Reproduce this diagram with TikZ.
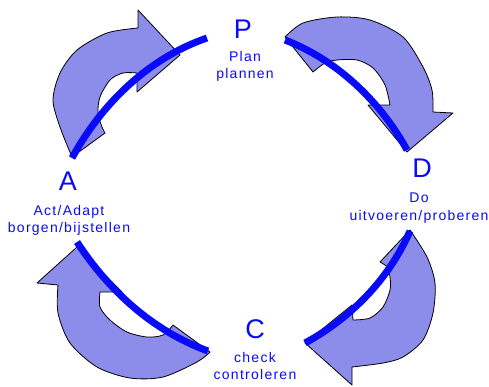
\documentclass[tikz,border=0pt]{standalone}
\usepackage{fontspec}
\setmainfont{Liberation Sans}
\newfontfamily\lblfont[LetterSpace=9]{Liberation Sans}
\definecolor{pdcablue}{RGB}{10,10,250}
\definecolor{arrowfill}{RGB}{140,140,235}

\begin{document}
\begin{tikzpicture}[x=1pt, y=-1pt,
  letter/.style={text=pdcablue, font=\fontsize{27}{30}\selectfont,
    inner sep=0pt, anchor=base},
  caption/.style={text=pdcablue, font=\lblfont\fontsize{14}{17.5}\selectfont,
    align=center, inner sep=0pt, anchor=north},
  bigarrow/.style={draw=black, fill=arrowfill, line width=0.8pt, line join=round},
  cycleline/.style={draw=pdcablue, line width=7pt}]
  \useasboundingbox (0,0) rectangle (489,386);
  % the four phases
  \node[letter] (P) at (243,38) {P};
  \node[caption] (plan) at (245,51) {Plan\\plannen};
  \node[letter] (D) at (422,177) {D};
  \node[caption] (do) at (419,193) {Do\\uitvoeren/proberen};
  \node[letter] (C) at (255,338) {C};
  \node[caption] (check) at (255,352) {check\\controleren};
  \node[letter] (A) at (68,190) {A};
  \node[caption] (act) at (69,205) {Act/Adapt\\borgen/bijstellen};
  % block arrows
  \draw[bigarrow] plot[smooth] coordinates {(72,157) (60,127) (53,100) (60,73)
      (77,50) (107,33) (138,28)}
    -- (138,10) -- (180,55) -- (137,92) -- (137,73)
    -- plot[smooth] coordinates {(137,73) (123,73) (110,80) (100,97) (98,113)
      (102,127) (105,133)} -- cycle;
  \draw[bigarrow] plot[smooth] coordinates {(285,37) (303,23) (337,17) (370,20)
      (403,37) (423,67) (432,90) (433,112)}
    -- (453,113) -- (407,152) -- (368,105) -- (390,105)
    -- plot[smooth] coordinates {(390,105) (385,85) (373,68) (357,60) (337,60)
      (325,63) (313,72)} -- cycle;
  \draw[bigarrow] plot[smooth] coordinates {(410,230) (427,257) (435,283) (433,313)
      (423,340) (403,357) (383,363) (352,367)}
    -- (352,385) -- (305,343) -- (352,305) -- (353,320)
    -- plot[smooth] coordinates {(353,320) (370,318) (383,307) (390,290) (390,277)
      (387,267) (380,262)} -- cycle;
  \draw[bigarrow] plot[smooth] coordinates {(210,352) (197,362) (163,377) (130,378)
      (97,367) (70,343) (58,313) (58,285)}
    -- (37,283) -- (77,247) -- (122,292) -- (100,292)
    -- plot[smooth] coordinates {(100,292) (100,307) (110,320) (127,332) (147,337)
      (163,335) (173,325)} -- cycle;
  % the cycle itself
  \coordinate (a-out) at (72,158);
  \coordinate (p-in) at (207,38);
  \coordinate (p-out) at (285,40);
  \coordinate (d-in) at (407,150);
  \coordinate (d-out) at (410,231);
  \coordinate (c-in) at (305,343);
  \coordinate (c-out) at (208,351);
  \coordinate (a-in) at (77,242);
  \draw[cycleline] (a-out) .. controls (102,103) and (149,58) .. (p-in);
  \draw[cycleline] (p-out) .. controls (337,60) and (380,101) .. (d-in);
  \draw[cycleline] (d-out) .. controls (389,279) and (351,318) .. (c-in);
  \draw[cycleline] (c-out) .. controls (153,331) and (109,291) .. (a-in);
\end{tikzpicture}
\end{document}
